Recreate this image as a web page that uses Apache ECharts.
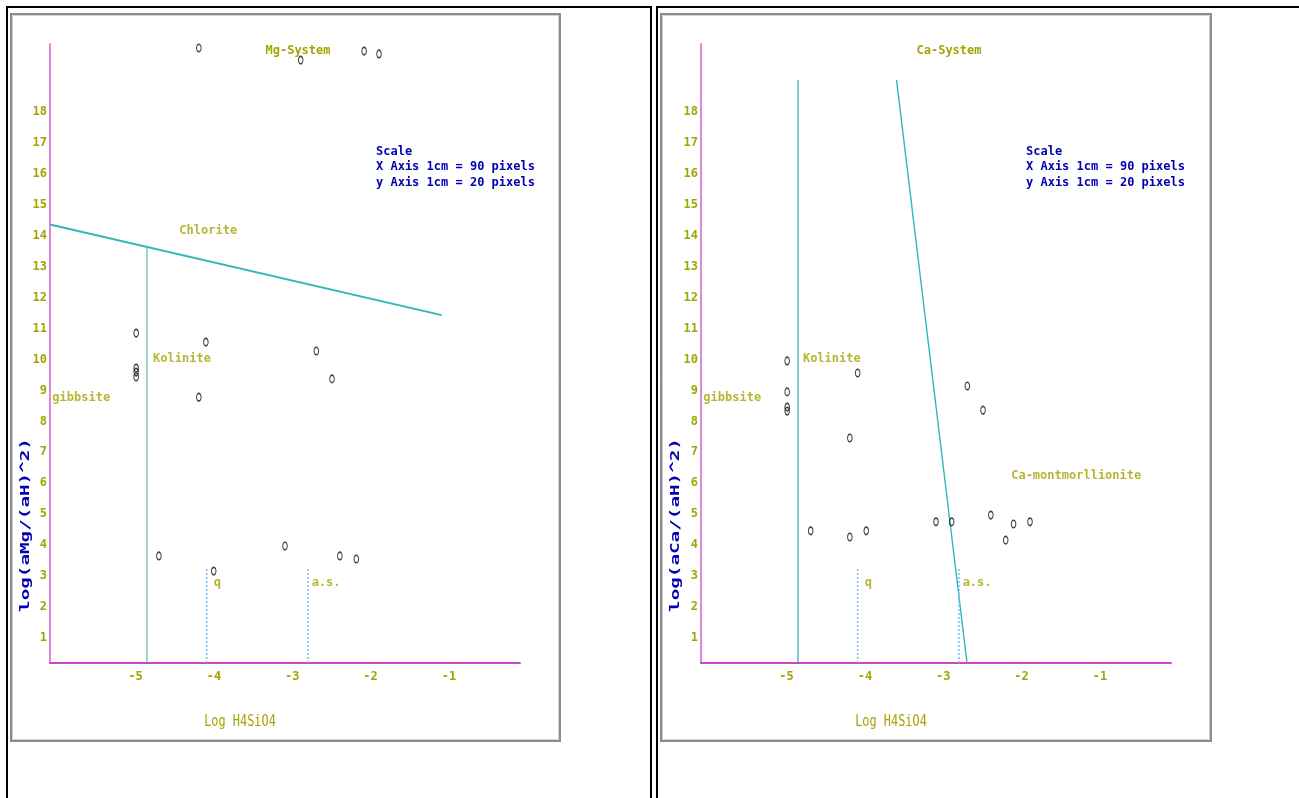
<!DOCTYPE html>
<html><head><meta charset="utf-8">
<script src="https://cdn.jsdelivr.net/npm/echarts@6/dist/echarts.min.js"></script>
<style>html,body{margin:0;padding:0;background:#fff}#c{width:1299px;height:798px}</style>
</head><body><div id="c"></div>
<script>
// ---- data ----
const xTickLabels = [-5, -4, -3, -2, -1];
const yTickLabels = [1, 2, 3, 4, 5, 6, 7, 8, 9, 10, 11, 12, 13, 14, 15, 16, 17, 18];

const mgX = [-4.10, -2.80, -1.99, -1.80, -4.90, -4.01, -4.90, -4.90, -4.90, -4.10, -2.60, -2.40, -4.61, -3.91, -3.00, -2.30, -2.09];
const mgY = [19.87, 19.48, 19.77, 19.68, 10.66, 10.37, 9.53, 9.40, 9.24, 8.59, 10.08, 9.18, 3.46, 2.97, 3.78, 3.46, 3.36];

const caX = [-4.90, -4.00, -4.90, -4.90, -4.90, -4.10, -4.60, -4.10, -3.89, -3.00, -2.80, -2.60, -2.40, -2.30, -2.01, -1.80, -2.11];
const caY = [9.76, 9.37, 8.76, 8.27, 8.14, 7.27, 4.27, 4.07, 4.27, 4.56, 4.56, 8.95, 8.17, 4.78, 4.49, 4.56, 3.97];

const chloriteLine = [[-6, 14.17], [-1, 11.24]];
const mgKaoliniteLine = [[-4.762, 0], [-4.762, 13.45]];
const caKaoliniteLine = [[-4.762, 0], [-4.762, 18.84]];
const caMontLine = [[-2.604, 0], [-3.504, 18.84]];
const quartzLine = [[-4.0, 0], [-4.0, 3.07]];
const amorphLine = [[-2.706, 0], [-2.706, 3.07]];

const mgNotes = [
  ['Chlorite', -3.98, 13.96, 'center'],
  ['Kolinite', -4.315, 9.82, 'center'],
  ['gibbsite', -5.97, 8.56, 'left'],
  ['q', -3.91, 2.6, 'left'],
  ['a.s.', -2.66, 2.6, 'left']
];
const caNotes = [
  ['Kolinite', -4.33, 9.82, 'center'],
  ['gibbsite', -5.97, 8.56, 'left'],
  ['q', -3.91, 2.6, 'left'],
  ['a.s.', -2.66, 2.6, 'left'],
  ['Ca-montmorllionite', -1.21, 6.04, 'center']
];

// ---- styles ----
const MONO = '"DejaVu Sans Mono", "Liberation Mono", monospace';
const OLIVE = '#a4a400';
const BLUE = '#0000b0';
const TEAL = '#30b8b8';
const DOT_BLUE = '#80b8ff';
const ELLIPSE = 'path://M0,-1A1,1 0 1,1 0,1A1,1 0 1,1 0,-1Z';

function pts(xs, ys) { return xs.map((x, i) => [x, ys[i]]); }

function axes(i) {
  const x = {
    type: 'value', gridIndex: i, min: -6, max: 0, interval: 1,
    axisLine: { show: true, onZero: false, lineStyle: { color: '#cc44cc', width: 2 } },
    axisTick: { show: false }, splitLine: { show: false },
    axisLabel: {
      show: true, margin: 8, align: 'left', color: OLIVE, fontFamily: MONO, fontSize: 12, fontWeight: 'bold',
      formatter: v => xTickLabels.includes(Math.round(v)) ? String(Math.round(v)) : ''
    }
  };
  const y = {
    type: 'value', gridIndex: i, min: 0, max: 20, interval: 1,
    axisLine: { show: true, onZero: false, lineStyle: { color: '#dd88dd', width: 2 } },
    axisTick: { show: false }, splitLine: { show: false },
    axisLabel: {
      show: true, margin: 3, verticalAlign: 'top', color: OLIVE, fontFamily: MONO, fontSize: 12, fontWeight: 'bold',
      formatter: v => yTickLabels.includes(Math.round(v)) ? String(Math.round(v)) : ''
    }
  };
  return [x, y];
}

function lineSeries(i, data, color, width, type) {
  return {
    type: 'line', xAxisIndex: i, yAxisIndex: i, data: data, symbol: 'none',
    lineStyle: { color: color, width: width, type: type || 'solid' }, silent: true, z: 2
  };
}
function dotSeries(i, data) {
  return {
    type: 'scatter', xAxisIndex: i, yAxisIndex: i, data: data, symbol: ELLIPSE,
    symbolSize: [4.5, 7.5],
    itemStyle: { color: 'rgba(0,0,0,0)', borderColor: '#111', borderWidth: 1.3 }, z: 4
  };
}
function noteSeries(i, notes) {
  return {
    type: 'scatter', xAxisIndex: i, yAxisIndex: i, symbolSize: 0.01, z: 5, silent: true,
    data: notes.map(n => ({
      name: n[0], value: [n[1], n[2]],
      label: { show: true, position: [0, 0], align: n[3], verticalAlign: 'middle',
        formatter: '{b}', color: OLIVE, fontFamily: MONO, fontSize: 12, fontWeight: 'bold' }
    }))
  };
}

const [x0, y0] = axes(0);
const [x1, y1] = axes(1);

function txt(x, y, text, opts) {
  return Object.assign({
    type: 'text', x: x, y: y, z: 10,
    style: Object.assign({ text: text, fill: OLIVE, font: 'bold 12px ' + MONO,
      align: 'left', verticalAlign: 'middle', textAlign: 'left', textVerticalAlign: 'middle' }, opts && opts.style || {})
  }, opts && opts.el || {});
}

const graphics = [];
// outer frames
graphics.push({ type: 'rect', shape: { x: 7, y: 7, width: 644, height: 900 }, style: { fill: 'none', stroke: '#000', lineWidth: 2 }, z: 1 });
graphics.push({ type: 'rect', shape: { x: 657, y: 7, width: 800, height: 900 }, style: { fill: 'none', stroke: '#000', lineWidth: 2 }, z: 1 });
// inner panels
[[11, 549], [661, 550]].forEach(p => {
  graphics.push({ type: 'rect', shape: { x: p[0], y: 14, width: p[1], height: 727 }, style: { fill: 'none', stroke: '#8c8c8c', lineWidth: 2 }, z: 1 });
  graphics.push({ type: 'rect', shape: { x: p[0] + 1.5, y: 15.5, width: p[1] - 3, height: 724 }, style: { fill: 'none', stroke: '#d0d0d0', lineWidth: 1 }, z: 1 });
});
// titles
graphics.push(txt(298, 51, 'Mg-System', { style: { align: 'center', textAlign: 'center' } }));
graphics.push(txt(949, 51, 'Ca-System', { style: { align: 'center', textAlign: 'center' } }));
// scale notes
[[376], [1026]].forEach(p => {
  graphics.push(txt(p[0], 152, 'Scale', { style: { fill: BLUE } }));
  graphics.push(txt(p[0], 167, 'X Axis 1cm = 90 pixels', { style: { fill: BLUE } }));
  graphics.push(txt(p[0], 183, 'y Axis 1cm = 20 pixels', { style: { fill: BLUE } }));
});
// x axis names
[240, 891].forEach(cx => {
  graphics.push(txt(cx, 722, 'Log H4SiO4', { style: { align: 'center', textAlign: 'center', font: '14px ' + MONO }, el: { scaleX: 0.85, scaleY: 1.1 } }));
});
// y axis names
[[26, 'log(aMg/(aH)^2)'], [676, 'log(aCa/(aH)^2)']].forEach(p => {
  graphics.push({
    type: 'text', x: p[0], y: 525, rotation: Math.PI / 2, scaleX: 1.75, scaleY: 1.05, z: 10,
    style: { text: p[1], fill: BLUE, font: 'bold 11px ' + MONO, align: 'center', verticalAlign: 'middle', textAlign: 'center', textVerticalAlign: 'middle' }
  });
});

const option = {
  animation: false,
  backgroundColor: '#fff',
  grid: [
    { left: 50, top: 44, width: 470, height: 619, containLabel: false },
    { left: 701, top: 44, width: 470, height: 619, containLabel: false }
  ],
  xAxis: [x0, x1],
  yAxis: [y0, y1],
  series: [
    lineSeries(0, chloriteLine, TEAL, 2),
    lineSeries(0, mgKaoliniteLine, '#44a8a8', 1),
    lineSeries(0, quartzLine, DOT_BLUE, 1.5, [2, 2]),
    lineSeries(0, amorphLine, DOT_BLUE, 1.5, [2, 2]),
    dotSeries(0, pts(mgX, mgY)),
    noteSeries(0, mgNotes),
    lineSeries(1, caKaoliniteLine, '#22b0b0', 1.2),
    lineSeries(1, caMontLine, TEAL, 1.4),
    lineSeries(1, quartzLine, DOT_BLUE, 1.5, [2, 2]),
    lineSeries(1, amorphLine, DOT_BLUE, 1.5, [2, 2]),
    dotSeries(1, pts(caX, caY)),
    noteSeries(1, caNotes)
  ],
  graphic: graphics
};
const chart = echarts.init(document.getElementById('c'), null, { renderer: 'canvas' });
chart.setOption(option);
</script></body></html>
